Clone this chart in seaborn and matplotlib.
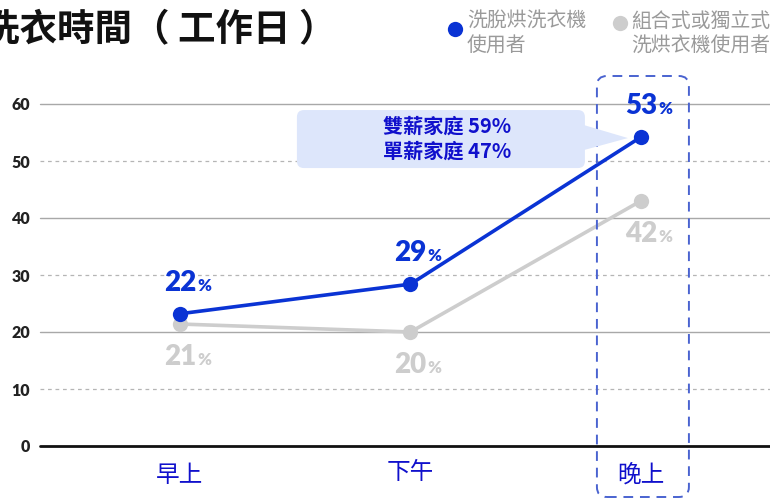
import numpy as np
import pandas as pd
import matplotlib
matplotlib.use("Agg")
import matplotlib.pyplot as plt
import seaborn as sns
from matplotlib.patches import FancyBboxPatch, Polygon
from matplotlib.lines import Line2D
from matplotlib.transforms import ScaledTranslation, IdentityTransform

# ---------------- data ----------------
periods = ["早上", "下午", "晚上"]
combo_values = [23.2, 28.4, 54.2]          # 洗脫烘洗衣機使用者 (plotted position)
combo_labels = ["22", "29", "53"]
separate_values = [21.4, 20.0, 43.0]       # 組合式或獨立式洗烘衣機使用者
separate_labels = ["21", "20", "42"]
series_names = ["洗脫烘洗衣機\n使用者", "組合式或獨立式\n洗烘衣機使用者"]
callout_lines = ["雙薪家庭 59%", "單薪家庭 47%"]
title = "洗衣時間（ 工作日 ）"
yticks = [0, 10, 20, 30, 40, 50, 60]

BLUE = "#0a33d4"
GREY = "#cdcdcd"
TXT_BLUE = "#1010cc"

sns.set_theme(style="white")
plt.rcParams["font.family"] = ["Noto Sans CJK TC", "DejaVu Sans"]

df = pd.DataFrame({
    "period": periods * 2,
    "value": separate_values + combo_values,
    "group": [series_names[1]] * 3 + [series_names[0]] * 3,
})

W, H = 770, 500
fig = plt.figure(figsize=(W / 100, H / 100), dpi=100)
ax = fig.add_axes([40 / W, (H - 446) / H, (W - 40) / W, (446 - 104) / H])

sns.lineplot(data=df, x="period", y="value", hue="group",
             hue_order=[series_names[1], series_names[0]],
             palette=[GREY, BLUE], marker="o", markersize=11,
             markeredgewidth=0, linewidth=2.6, ax=ax, legend=False,
             sort=False, zorder=5)

ax.set_xlim(-0.607, 2.56)
ax.set_ylim(0, 60)
for s in ax.spines.values():
    s.set_visible(False)

# grid lines
for t in yticks:
    if t == 0:
        ax.axhline(t, color="#111111", lw=2.0, zorder=2, clip_on=False)
    elif t % 20 == 0:
        ax.axhline(t, color="#a8a8a8", lw=1.0, zorder=1, clip_on=False)
    else:
        ax.axhline(t, color="#b5b5b5", lw=0.9, ls=(0, (3, 3)), zorder=1)

ax.set_yticks(yticks)
ax.set_yticklabels([str(t) for t in yticks], fontsize=11.5, fontweight="heavy",
                   color="#222222", family=["Lato", "DejaVu Sans"])
ax.tick_params(axis="y", length=0, pad=7)
ax.set_xticks(range(len(periods)))
ax.set_xticklabels(periods, fontsize=17, color=TXT_BLUE, fontweight="medium")
ax.tick_params(axis="x", length=0, pad=13)
ax.set_xlabel("")
ax.set_ylabel("")
# middle label sits a bit higher
lbl = ax.get_xticklabels()[1]
lbl.set_transform(lbl.get_transform() + ScaledTranslation(0, 3 / 100, fig.dpi_scale_trans))

# value labels
def value_label(x, y, num, color, dy):
    ax.annotate(num, (x, y), xytext=(16, dy), textcoords="offset pixels",
                ha="right", va="center", fontsize=20, fontweight="heavy",
                color=color, family=["Lato", "DejaVu Sans"], zorder=6)
    ax.annotate("%", (x, y), xytext=(17, dy - 3), textcoords="offset pixels",
                ha="left", va="center", fontsize=12, fontweight="heavy",
                color=color, family=["Lato", "DejaVu Sans"], zorder=6)

for i, (v, l) in enumerate(zip(combo_values, combo_labels)):
    value_label(i, v, l, BLUE, 31)
for i, (v, l) in enumerate(zip(separate_values, separate_labels)):
    value_label(i, v, l, GREY, -33)

fig.canvas.draw()
# dashed highlight box around evening column
px, py = ax.transData.transform((2, combo_values[2]))
bx, _ = ax.transData.transform((2, 0))
box = FancyBboxPatch((bx - 44, 3), 92, 421, boxstyle="round,pad=0,rounding_size=10",
                     fill=False, ec="#4a63d0", lw=1.4, ls=(0, (5, 3.5)),
                     transform=IdentityTransform(), zorder=3)
fig.add_artist(box)

# callout
cb = FancyBboxPatch((px - 344, py - 31), 288, 58, boxstyle="round,pad=0,rounding_size=7",
                    fc="#dde6fb", ec="none", transform=IdentityTransform(), zorder=4)
fig.add_artist(cb)
tri = Polygon([(px - 57, py + 12), (px - 57, py - 13), (px - 13, py - 1)], closed=True,
              fc="#dde6fb", ec="none", transform=IdentityTransform(), zorder=4)
fig.add_artist(tri)
fig.text((px - 194) / W, (py + 11) / H, callout_lines[0], ha="center", va="center",
         fontsize=14.5, fontweight="bold", color=TXT_BLUE, zorder=5)
fig.text((px - 194) / W, (py - 14) / H, callout_lines[1], ha="center", va="center",
         fontsize=14.5, fontweight="bold", color=TXT_BLUE, zorder=5)

# title
fig.text(-18 / W, 1 - 30 / H, title, ha="left", va="center", fontsize=27,
         fontweight="bold", color="#111111")

# legend (drawn manually in figure pixels)
legend_items = [(BLUE, 455, 29, 467), (GREY, 620, 23, 631)]
for name, (col, dx, dy, tx) in zip(series_names, legend_items):
    fig.add_artist(Line2D([dx / W], [1 - dy / H], ls="none", marker="o", ms=11, mew=0,
                          color=col, transform=fig.transFigure))
    fig.text(tx / W, 1 - 11 / H, name, ha="left", va="top", fontsize=14.3,
             color="#9a9a9a", linespacing=1.25)

fig.savefig("out.png", dpi=100)
